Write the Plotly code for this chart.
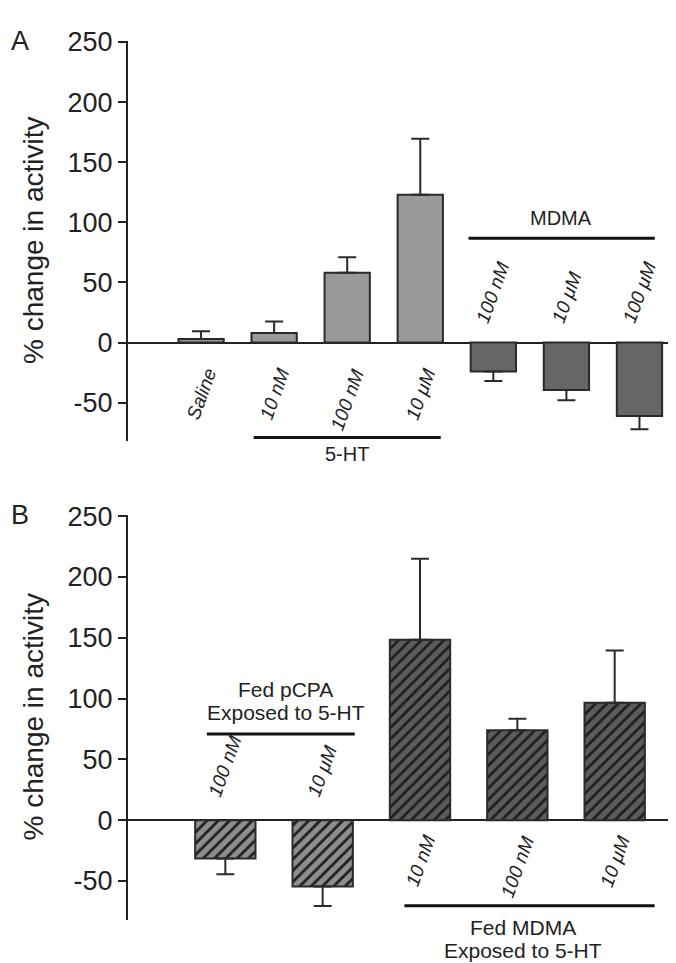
import plotly.graph_objects as go

# ---------------- data ----------------
a_labels = ["Saline", "10 nM", "100 nM", "10 μM", "100 nM", "10 μM", "100 μM"]
a_values = [3, 8, 58, 123, -24, -39.5, -61]
a_errors = [6.5, 9.5, 13, 46.5, 8, 8.5, 11]
a_colors = ["#9a9a9c", "#9a9a9c", "#9a9a9c", "#9a9a9c", "#666668", "#666668", "#666668"]

b_labels = ["100 nM", "10 μM", "10 nM", "100 nM", "10 μM"]
b_values = [-31.5, -54.5, 148.5, 74, 96.5]
b_errors = [13, 16, 66.5, 9.5, 43]
b_colors = ["#8e8e8e", "#8e8e8e", "#5c5c5e", "#5c5c5e", "#5c5c5e"]

yticks = [-50, 0, 50, 100, 150, 200, 250]
ytick_text = ["-50", "0", "50", "100", "150", "200", "250"]

FONT = "Liberation Sans, Arial, sans-serif"

fig = go.Figure()

def add_panel(labels, values, errors, colors, xa, ya, hatch):
    xs = list(range(len(values)))
    # one trace per colour so that each hatch pattern gets a plain background colour
    for col in dict.fromkeys(colors):
        idx = [i for i, c in enumerate(colors) if c == col]
        vals = [values[i] for i in idx]
        errs = [errors[i] for i in idx]
        plus = [e if v >= 0 else 0 for v, e in zip(vals, errs)]
        minus = [e if v < 0 else 0 for v, e in zip(vals, errs)]
        marker = dict(color=col, line=dict(color="#2a2a2a", width=2))
        if hatch:
            marker["pattern"] = dict(shape="/", fgcolor="#1e1e1e", bgcolor=col, size=8,
                                     solidity=0.35, fillmode="replace")
        fig.add_trace(go.Bar(
            x=[xs[i] for i in idx], y=vals, width=0.62, marker=marker,
            error_y=dict(type="data", symmetric=False, array=plus, arrayminus=minus,
                         color="#2a2a2a", thickness=2, width=9),
            xaxis=xa, yaxis=ya, showlegend=False, hoverinfo="skip"))
    # category labels
    for x, v, lab in zip(xs, values, labels):
        if v >= 0:
            y, anc = (-17 if ya == "y" else -8), "top"
        else:
            y, anc = (12 if ya == "y" else 15), "bottom"
        fig.add_annotation(x=x, y=y, xref=xa, yref=ya, text="<i>%s</i>" % lab,
                           textangle=-70, showarrow=False, xanchor="center", yanchor=anc,
                           font=dict(family=FONT, size=19, color="#222"))

add_panel(a_labels, a_values, a_errors, a_colors, "x", "y", False)
add_panel(b_labels, b_values, b_errors, b_colors, "x2", "y2", True)

yaxis_common = dict(range=[-82, 251], tickvals=yticks, ticktext=ytick_text,
                    showline=True, linecolor="#222", linewidth=2,
                    ticks="outside", ticklen=8, tickwidth=2, tickcolor="#222",
                    showgrid=False, zeroline=True, zerolinecolor="#222", zerolinewidth=2,
                    tickfont=dict(family=FONT, size=27, color="#222"))
xaxis_common = dict(showline=False, showticklabels=False, showgrid=False,
                    zeroline=False, ticks="")

# page body adds an 8px margin, so the figure is 8px smaller than the window
fig.update_layout(
    width=668, height=955,
    margin=dict(l=120, r=0, t=0, b=0),
    plot_bgcolor="white", paper_bgcolor="white",
    barmode="overlay",
    xaxis=dict(xaxis_common, domain=[0, 1], range=[-1, 6.5], anchor="y"),
    yaxis=dict(yaxis_common, domain=[0.5539, 0.9790], anchor="x"),
    xaxis2=dict(xaxis_common, domain=[0, 1], range=[-1, 4.63], anchor="y2"),
    yaxis2=dict(yaxis_common, domain=[0.0457, 0.4756], anchor="x2"),
)

# group lines
line_style = dict(color="#111", width=3)
fig.add_shape(type="line", xref="x", yref="y", x0=0.72, x1=3.28, y0=-79, y1=-79, line=line_style)
fig.add_shape(type="line", xref="x", yref="y", x0=3.66, x1=6.21, y0=86.7, y1=86.7, line=line_style)
fig.add_shape(type="line", xref="x2", yref="y2", x0=-0.19, x1=1.33, y0=70.8, y1=70.8, line=line_style)
fig.add_shape(type="line", xref="x2", yref="y2", x0=1.84, x1=4.41, y0=-70.3, y1=-70.3, line=line_style)

gfont = dict(family=FONT, size=20, color="#222")
bfont = dict(family=FONT, size=21, color="#222")
fig.add_annotation(x=2.0, y=-79, xref="x", yref="y", text="5-HT", showarrow=False,
                   yanchor="top", yshift=-3, font=gfont)
fig.add_annotation(x=4.93, y=86.7, xref="x", yref="y", text="MDMA", showarrow=False,
                   yanchor="bottom", yshift=7, font=gfont)
for txt, sh in [("Fed pCPA", 45), ("Exposed to 5-HT", 22)]:
    fig.add_annotation(x=0.62, y=70.8, xref="x2", yref="y2", text=txt, borderpad=0,
                       showarrow=False, yanchor="middle", yshift=sh, font=bfont)
for txt, sh in [("Fed MDMA", -22), ("Exposed to 5-HT", -45)]:
    fig.add_annotation(x=3.06, y=-70.3, xref="x2", yref="y2", text=txt, borderpad=0,
                       showarrow=False, yanchor="middle", yshift=sh, font=bfont)

# axis titles and panel letters
for yc, letter, ly in [((0.5539 + 0.9790) / 2, "A", 0.9790), ((0.0457 + 0.4756) / 2, "B", 0.4756)]:
    fig.add_annotation(x=-95 / 548, y=yc, xref="paper", yref="paper",
                       text="% change in activity", textangle=-90, showarrow=False,
                       xanchor="center", yanchor="middle",
                       font=dict(family=FONT, size=28, color="#222"))
    fig.add_annotation(x=-108 / 548, y=ly, xref="paper", yref="paper",
                       text=letter, showarrow=False, xanchor="center", yanchor="middle",
                       font=dict(family=FONT, size=27, color="#222"))

fig.write_html("out.html")
